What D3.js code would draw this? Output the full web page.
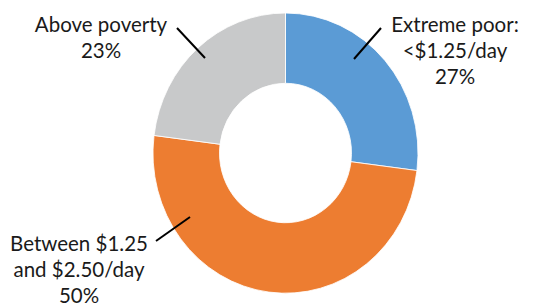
<!doctype html>
<html>
<head>
<meta charset="UTF-8">
<title>Poverty donut</title>
<script src="https://cdn.jsdelivr.net/npm/d3@7"></script>
<style>
  body { margin: 0; background: #fff; }
  text { font-family: Lato, "Open Sans", sans-serif; fill: #1a1a1a; }
</style>
</head>
<body>
<svg id="chart" width="553" height="307"></svg>
<script>
// data
var categories = ["Extreme poor", "Between", "Above poverty"];
var values = [27, 50, 23];
var labelLines = [
    ["Extreme poor:", "<$1.25/day", "27%"],
    ["Between $1.25", "and $2.50/day", "50%"],
    ["Above poverty", "23%"]
];
var colors = ["#5b9bd5", "#ed7d31", "#c8c9ca"];

// layout
var cx = 285.5, cy = 153;
var rOuter = 132.5, rInner = 66, yStretch = 140 / 132.5;

var labelPos = [
    { x: 455, y: 32, line: [[354, 59], [381, 28]] },
    { x: 79, y: 251, line: [[190, 217], [156, 241]] },
    { x: 101, y: 32, line: [[205, 58], [177, 28]] }
];

var svg = d3.select("#chart");

var pie = d3.pie().sort(null).value(function(d) { return d; });
var arc = d3.arc().innerRadius(rInner).outerRadius(rOuter);

var g = svg.append("g")
    .attr("transform", "translate(" + cx + "," + cy + ") scale(1," + yStretch + ")");

g.selectAll("path")
    .data(pie(values))
    .enter().append("path")
        .attr("d", arc)
        .attr("fill", function(d, i) { return colors[i]; })
        .attr("stroke", "#fff")
        .attr("stroke-width", 0.8);

// leader lines
svg.selectAll("line.leader")
    .data(labelPos)
    .enter().append("line")
        .attr("class", "leader")
        .attr("x1", function(d) { return d.line[0][0]; })
        .attr("y1", function(d) { return d.line[0][1]; })
        .attr("x2", function(d) { return d.line[1][0]; })
        .attr("y2", function(d) { return d.line[1][1]; })
        .attr("stroke", "#000")
        .attr("stroke-width", 2);

// labels
labelLines.forEach(function(lines, i) {
    var t = svg.append("text")
        .attr("text-anchor", "middle")
        .attr("font-size", 20.5);
    lines.forEach(function(s, j) {
        t.append("tspan")
            .attr("x", labelPos[i].x)
            .attr("y", labelPos[i].y + j * 26)
            .text(s);
    });
});
</script>
</body>
</html>
